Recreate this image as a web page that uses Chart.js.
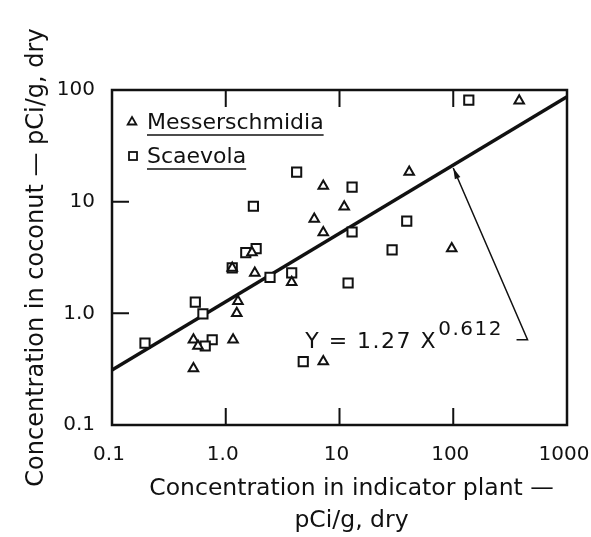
<!DOCTYPE html>
<html>
<head>
<meta charset="utf-8">
<script src="https://cdn.jsdelivr.net/npm/chart.js@4.4.1/dist/chart.umd.min.js"></script>
<style>
  html, body { margin: 0; padding: 0; background: #fff; }
  #wrap { width: 591px; height: 537px; }
</style>
</head>
<body>
<div id="wrap"><canvas id="plot" width="591" height="537"></canvas></div>
<script>
const xTickValues = [0.1, 1, 10, 100, 1000];
const xTickLabels = ['0.1', '1.0', '10', '100', '1000'];
const yTickValues = [0.1, 1, 10, 100];
const yTickLabels = ['0.1', '1.0', '10', '100'];

// Messerschmidia samples: indicator plant (x) vs coconut (y), pCi/g dry
const messerX = [380, 41, 7.2, 11, 6.0, 7.2, 97, 1.7, 1.8, 3.8, 1.28, 1.25, 0.52, 0.57, 1.16, 0.52, 7.2, 1.14];
const messerY = [80, 18.4, 13.8, 9.0, 7.0, 5.3, 3.8, 3.5, 2.3, 1.9, 1.28, 1.0, 0.58, 0.51, 0.58, 0.32, 0.37, 2.55];

// Scaevola samples
const scaevolaX = [137, 4.2, 12.9, 1.75, 39, 12.9, 1.5, 1.85, 29, 1.14, 2.45, 3.8, 11.9, 0.54, 0.63, 0.76, 0.66, 0.195, 4.8];
const scaevolaY = [81, 18.4, 13.5, 9.1, 6.7, 5.35, 3.5, 3.8, 3.7, 2.55, 2.1, 2.3, 1.87, 1.26, 0.99, 0.58, 0.51, 0.54, 0.37];

// power-law fit Y = a X^b
const fitCoef = 1.27;
const fitExp = 0.612;
const fitX = [0.1, 1000];

const xTitle = ['Concentration in indicator plant \u2014', 'pCi/g, dry'];
const yTitle = 'Concentration in coconut \u2014 pCi/g, dry';

const ink = '#111';
const family = '"DejaVu Sans", sans-serif';
Chart.defaults.font.family = family;
Chart.defaults.color = ink;

const fit = x => fitCoef * Math.pow(x, fitExp);
const toPoints = (xs, ys) => xs.map((x, i) => ({ x, y: ys[i] }));

function triangle(ctx, cx, cy, r) {
  ctx.beginPath();
  ctx.moveTo(cx, cy - r);
  ctx.lineTo(cx + r * 0.866, cy + r * 0.5);
  ctx.lineTo(cx - r * 0.866, cy + r * 0.5);
  ctx.closePath();
  ctx.fillStyle = '#fff';
  ctx.fill();
  ctx.stroke();
}

function square(ctx, cx, cy, half) {
  ctx.fillStyle = '#fff';
  ctx.fillRect(cx - half, cy - half, half * 2, half * 2);
  ctx.strokeRect(cx - half, cy - half, half * 2, half * 2);
}

// frame, inward ticks, legend, x title and the fit annotation
const frameAndNotes = {
  id: 'frameAndNotes',
  afterDatasetsDraw(chart) {
    const { ctx, chartArea: a, scales: { x, y } } = chart;
    ctx.save();
    ctx.strokeStyle = ink;
    ctx.lineWidth = 2.5;
    ctx.strokeRect(a.left, a.top, a.right - a.left, a.bottom - a.top);

    ctx.lineWidth = 2;
    ctx.beginPath();
    xTickValues.slice(1, -1).forEach(v => {
      const px = x.getPixelForValue(v);
      ctx.moveTo(px, a.top); ctx.lineTo(px, a.top + 17);
      ctx.moveTo(px, a.bottom); ctx.lineTo(px, a.bottom - 17);
    });
    yTickValues.slice(1, -1).forEach(v => {
      const py = y.getPixelForValue(v);
      ctx.moveTo(a.left, py); ctx.lineTo(a.left + 17, py);
    });
    ctx.stroke();

    // legend with underlined names
    ctx.font = '22px ' + family;
    ctx.textBaseline = 'alphabetic';
    ctx.textAlign = 'left';
    const rows = [
      { label: chart.data.datasets[0].label, dy: 32, mark: 'tri' },
      { label: chart.data.datasets[1].label, dy: 66, mark: 'sq' }
    ];
    rows.forEach(r => {
      const my = a.top + r.dy;
      ctx.lineWidth = 1.8;
      if (r.mark === 'tri') triangle(ctx, a.left + 20, my, 5);
      else square(ctx, a.left + 21, my, 4);
      ctx.fillStyle = ink;
      const tx = a.left + 35;
      const base = my + 7;
      ctx.fillText(r.label, tx, base);
      const w = ctx.measureText(r.label).width;
      ctx.lineWidth = 1.5;
      ctx.beginPath();
      ctx.moveTo(tx, base + 6);
      ctx.lineTo(tx + w, base + 6);
      ctx.stroke();
    });

    // x axis title, two centred lines under the tick labels
    ctx.font = '23.5px ' + family;
    ctx.textAlign = 'center';
    ctx.textBaseline = 'middle';
    ctx.fillStyle = ink;
    const cx = (a.left + a.right) / 2 + 12;
    xTitle.forEach((line, i) => ctx.fillText(line, cx, a.bottom + 64 + i * 32));

    // equation label
    ctx.textAlign = 'left';
    ctx.textBaseline = 'alphabetic';
    const ex = x.getPixelForValue(5.0);
    const ey = y.getPixelForValue(0.49);
    ctx.letterSpacing = '1.5px';
    ctx.font = '22px ' + family;
    const main = 'Y = ' + fitCoef + ' X';
    ctx.fillText(main, ex, ey);
    const mw = ctx.measureText(main).width;
    ctx.font = '20px ' + family;
    ctx.fillText(String(fitExp), ex + mw + 1, ey - 13);
    ctx.letterSpacing = '0px';

    // leader from the label up to the fit line
    const tipX = x.getPixelForValue(100);
    const tipY = y.getPixelForValue(fit(100)) + 3;
    const tailX = x.getPixelForValue(450);
    const tailY = y.getPixelForValue(0.58);
    const hookX = x.getPixelForValue(360);
    ctx.lineWidth = 1.5;
    ctx.beginPath();
    ctx.moveTo(hookX, tailY);
    ctx.lineTo(tailX, tailY);
    ctx.lineTo(tipX, tipY);
    ctx.stroke();
    const ang = Math.atan2(tipY - tailY, tipX - tailX);
    ctx.beginPath();
    ctx.moveTo(tipX, tipY);
    ctx.lineTo(tipX - 11 * Math.cos(ang) + 3 * Math.sin(ang), tipY - 11 * Math.sin(ang) - 3 * Math.cos(ang));
    ctx.lineTo(tipX - 11 * Math.cos(ang) - 3 * Math.sin(ang), tipY - 11 * Math.sin(ang) + 3 * Math.cos(ang));
    ctx.closePath();
    ctx.fillStyle = ink;
    ctx.fill();
    ctx.restore();
  }
};

new Chart(document.getElementById('plot'), {
  type: 'scatter',
  data: {
    datasets: [
      {
        label: 'Messerschmidia',
        data: toPoints(messerX, messerY),
        pointStyle: 'triangle',
        pointRadius: 5.5,
        borderColor: ink,
        backgroundColor: '#fff',
        pointBorderWidth: 2
      },
      {
        label: 'Scaevola',
        data: toPoints(scaevolaX, scaevolaY),
        pointStyle: 'rect',
        pointRadius: 6.5,
        borderColor: ink,
        backgroundColor: '#fff',
        pointBorderWidth: 2
      },
      {
        type: 'line',
        label: 'fit',
        data: fitX.map(x => ({ x, y: fit(x) })),
        borderColor: ink,
        borderWidth: 3.5,
        pointRadius: 0,
        showLine: true
      }
    ]
  },
  options: {
    responsive: false,
    animation: false,
    layout: { padding: { top: 90, right: 24, bottom: 0, left: 0 } },
    plugins: {
      legend: { display: false },
      tooltip: { enabled: false }
    },
    scales: {
      x: {
        type: 'logarithmic',
        min: 0.1,
        max: 1000,
        afterBuildTicks: s => { s.ticks = xTickValues.map(v => ({ value: v })); },
        afterFit: s => {
          s.height = 112;
          // let the end labels hang past the frame
          s.paddingLeft = 0;
          s.paddingRight = 0;
        },
        grid: { display: false },
        border: { display: false },
        ticks: {
          padding: 10,
          labelOffset: -3,
          autoSkip: false,
          maxRotation: 0,
          color: ink,
          font: { size: 20 },
          callback: v => xTickLabels[xTickValues.indexOf(v)]
        },
        title: { display: false }
      },
      y: {
        type: 'logarithmic',
        min: 0.1,
        max: 100,
        afterBuildTicks: s => { s.ticks = yTickValues.map(v => ({ value: v })); },
        afterFit: s => { s.width = 112; },
        grid: { display: false },
        border: { display: false },
        ticks: {
          padding: 9,
          autoSkip: false,
          color: ink,
          font: { size: 20 },
          callback: v => yTickLabels[yTickValues.indexOf(v)]
        },
        title: {
          display: true,
          text: yTitle,
          color: ink,
          font: { size: 24 },
          padding: { top: 22, bottom: 0 }
        }
      }
    }
  },
  plugins: [frameAndNotes]
});
</script>
</body>
</html>
